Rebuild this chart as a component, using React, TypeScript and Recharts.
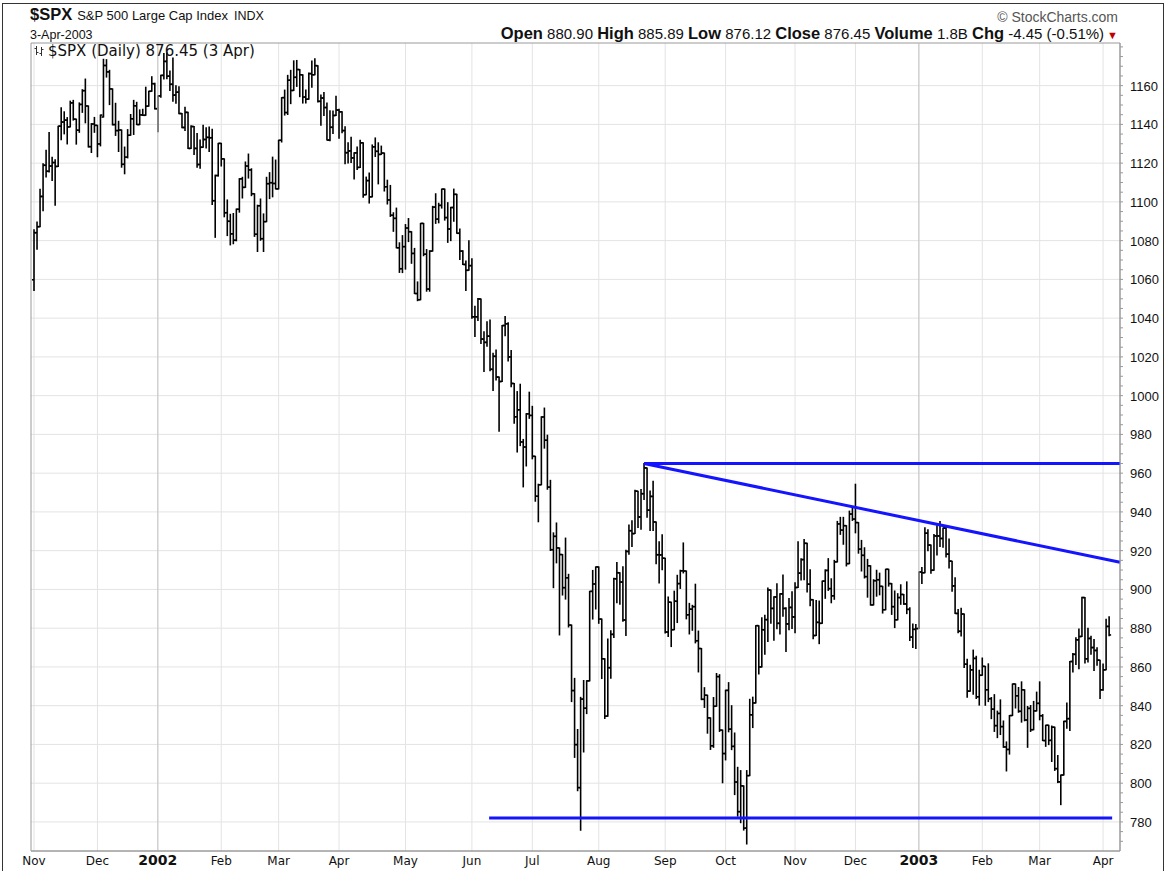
import React from "react";
import {
  ComposedChart,
  Bar,
  XAxis,
  YAxis,
  CartesianGrid,
  ReferenceLine,
  ReferenceArea,
} from "recharts";

// first trading day (bar index) of each month, and its axis label
const monthStarts = [0, 21, 41, 62, 81, 101, 123, 145, 165, 187, 209, 229, 252, 272, 293, 314, 333, 354];
const monthLabels = ["Nov", "Dec", "2002", "Feb", "Mar", "Apr", "May", "Jun", "Jul", "Aug", "Sep", "Oct", "Nov", "Dec", "2003", "Feb", "Mar", "Apr"];
const yearStarts = [41, 293];

const priceLabels = [780, 800, 820, 840, 860, 880, 900, 920, 940, 960, 980, 1000, 1020, 1040, 1060, 1080, 1100, 1120, 1140, 1160];

// daily bars, 1 Nov 2001 .. 3 Apr 2003 (one line per month)
const opens = [
  1059.8, 1084.1, 1087.2, 1102.8, 1118.9, 1115.8, 1118.5, 1120.3, 1118.3, 1139.1, 1141.2, 1142.2, 1138.7, 1151.1, 1142.7, 1137.0, 1150.3, 1157.4, 1149.5, 1128.5, 1140.2,
  1139.5, 1129.9, 1143.8, 1170.4, 1167.1, 1158.3, 1139.9, 1136.8, 1137.1, 1119.4, 1123.1, 1134.4, 1142.9, 1149.6, 1139.9, 1144.9, 1144.7, 1149.4, 1157.1, 1161.0,
  1148.1, 1154.7, 1165.3, 1172.5, 1164.9, 1160.7, 1155.1, 1156.6, 1145.6, 1138.4, 1146.2, 1127.6, 1138.9, 1127.6, 1119.3, 1128.2, 1132.2, 1133.3, 1133.1, 1100.6, 1113.6,
  1130.2, 1122.2, 1094.4, 1090.0, 1083.5, 1080.2, 1096.2, 1111.9, 1107.5, 1118.5, 1116.5, 1104.2, 1083.3, 1098.0, 1081.0, 1089.8, 1109.4, 1109.9, 1109.5,
  1106.7, 1131.8, 1153.8, 1146.1, 1162.8, 1157.5, 1164.3, 1168.3, 1165.6, 1154.1, 1153.0, 1166.2, 1165.6, 1170.3, 1151.9, 1153.6, 1148.7, 1131.9, 1138.5, 1144.6,
  1147.4, 1146.5, 1136.8, 1125.4, 1126.3, 1122.7, 1125.3, 1117.8, 1130.5, 1103.7, 1111.0, 1102.6, 1128.4, 1126.1, 1124.5, 1125.2, 1107.8, 1101.0, 1093.1, 1091.5, 1076.3, 1065.5,
  1076.9, 1086.5, 1084.6, 1073.4, 1052.7, 1049.5, 1088.9, 1073.0, 1055.0, 1074.6, 1097.3, 1091.1, 1098.2, 1106.6, 1091.9, 1086.0, 1097.1, 1103.9, 1083.8, 1074.6, 1067.7, 1064.7,
  1067.1, 1040.7, 1040.7, 1049.9, 1029.2, 1027.5, 1030.7, 1013.6, 1020.3, 1009.6, 1007.3, 1036.2, 1037.1, 1020.0, 1006.3, 989.1, 992.7, 976.1, 973.5, 990.6,
  989.8, 968.7, 948.1, 954.0, 989.0, 977.0, 952.8, 920.5, 927.4, 921.4, 918.0, 900.9, 906.0, 881.6, 847.8, 819.9, 797.7, 843.4, 838.7, 852.8, 899.0, 902.8,
  911.6, 884.7, 864.2, 834.6, 859.6, 876.8, 905.5, 908.6, 903.8, 884.2, 919.6, 930.3, 928.8, 950.7, 937.4, 949.4, 962.7, 940.9, 948.0, 934.8, 917.9, 917.8,
  916.1, 878.0, 893.4, 879.2, 893.9, 903.0, 909.6, 909.5, 886.9, 889.8, 891.1, 873.5, 869.5, 843.3, 845.4, 833.7, 819.3, 839.7, 855.0, 827.4,
  815.3, 847.9, 827.9, 819.0, 800.6, 785.3, 798.6, 776.8, 803.9, 835.3, 841.4, 881.3, 860.0, 879.2, 884.4, 899.7, 890.2, 896.1, 882.5, 897.7, 890.2, 882.2, 890.7,
  885.8, 901.0, 908.4, 915.4, 923.8, 902.7, 894.7, 876.2, 883.0, 882.5, 904.3, 909.8, 900.4, 896.7, 914.2, 933.8, 930.6, 932.9, 913.3, 938.9,
  936.3, 934.5, 920.8, 917.6, 906.6, 912.2, 892.0, 904.5, 905.0, 901.6, 889.5, 910.4, 903.0, 891.1, 884.3, 895.8, 897.4, 892.5, 889.7, 875.4, 879.4,
  879.8, 909.0, 908.6, 929.0, 922.9, 909.9, 927.6, 927.6, 926.3, 931.7, 918.2, 914.6, 901.8, 887.6, 878.4, 887.3, 861.4, 847.5, 858.5, 864.4, 844.6,
  855.7, 860.3, 848.2, 843.6, 838.2, 829.7, 836.0, 829.2, 818.7, 817.4, 834.9, 851.2, 845.1, 837.1, 848.2, 832.6, 838.6, 827.6, 837.3,
  841.2, 834.8, 822.0, 829.9, 822.1, 828.9, 807.5, 800.7, 804.2, 831.9, 833.3, 862.8, 866.5, 874.0, 875.7, 895.8, 864.2, 874.7, 870.0, 868.5, 863.5,
  848.2, 858.5, 880.9,
];

const highs = [
  1085.6, 1089.6, 1106.5, 1119.7, 1126.6, 1135.8, 1123.0, 1121.7, 1139.1, 1148.6, 1146.5, 1143.5, 1152.0, 1152.4, 1142.7, 1151.1, 1157.9, 1163.4, 1149.5, 1140.4, 1143.6,
  1139.5, 1144.8, 1173.6, 1173.4, 1167.9, 1158.3, 1150.9, 1141.6, 1137.1, 1128.3, 1137.3, 1145.1, 1152.4, 1151.4, 1147.5, 1147.8, 1159.2, 1157.1, 1164.6, 1161.2,
  1154.7, 1165.3, 1176.6, 1177.0, 1167.6, 1174.3, 1159.9, 1159.4, 1145.6, 1148.8, 1146.2, 1139.3, 1138.9, 1135.3, 1131.9, 1139.5, 1138.3, 1138.6, 1137.5, 1113.8, 1130.2,
  1130.2, 1122.2, 1101.0, 1093.6, 1094.0, 1096.3, 1112.0, 1112.7, 1120.6, 1124.7, 1117.1, 1104.2, 1098.3, 1101.5, 1093.8, 1112.7, 1115.1, 1123.1, 1121.6,
  1131.8, 1153.8, 1157.7, 1165.3, 1167.9, 1172.8, 1173.0, 1168.3, 1165.6, 1157.8, 1166.5, 1172.7, 1173.9, 1170.3, 1155.1, 1156.5, 1151.0, 1147.0, 1146.9, 1154.5,
  1147.8, 1146.5, 1138.8, 1130.5, 1133.3, 1125.4, 1128.3, 1131.8, 1130.5, 1112.8, 1114.9, 1129.4, 1133.0, 1130.5, 1128.8, 1125.2, 1111.2, 1108.5, 1094.4, 1096.8, 1078.9, 1082.6,
  1088.3, 1091.4, 1084.6, 1076.0, 1058.7, 1088.9, 1088.9, 1075.4, 1074.8, 1097.7, 1104.2, 1099.3, 1106.6, 1106.6, 1099.6, 1097.2, 1106.6, 1103.9, 1086.0, 1074.8, 1069.5, 1079.9,
  1070.7, 1046.1, 1050.1, 1049.9, 1033.0, 1038.2, 1039.0, 1021.9, 1023.5, 1009.6, 1036.2, 1040.8, 1037.6, 1023.3, 1006.3, 1002.1, 1005.9, 977.4, 990.7, 1001.8,
  994.5, 968.7, 954.3, 989.1, 993.6, 979.6, 956.3, 929.2, 934.3, 921.4, 918.0, 926.5, 907.8, 881.6, 854.1, 827.7, 844.3, 853.0, 852.9, 899.0, 909.8, 911.6,
  911.6, 884.7, 864.2, 874.4, 878.7, 905.8, 913.9, 908.6, 911.7, 920.2, 933.3, 935.4, 951.2, 950.7, 951.6, 965.0, 962.7, 950.8, 955.8, 934.8, 924.6, 928.2,
  916.1, 896.1, 893.4, 899.1, 907.3, 909.9, 924.0, 909.5, 892.8, 891.8, 902.7, 878.5, 869.5, 849.3, 845.4, 833.7, 844.2, 856.6, 856.0, 827.4,
  848.0, 851.9, 840.0, 825.9, 808.2, 806.5, 798.6, 806.5, 843.3, 844.4, 881.3, 881.3, 885.4, 886.7, 900.7, 899.7, 896.2, 902.9, 897.7, 907.4, 890.6, 895.3, 898.8,
  903.4, 924.6, 915.8, 925.7, 923.8, 910.1, 894.7, 894.3, 894.0, 904.3, 910.1, 915.9, 905.5, 915.0, 935.1, 937.2, 937.2, 932.9, 940.4, 941.8,
  954.3, 934.5, 925.3, 921.5, 915.5, 912.2, 905.0, 909.9, 908.4, 901.6, 910.4, 910.4, 903.0, 899.2, 897.8, 902.4, 897.4, 903.9, 890.5, 882.1, 881.9,
  909.0, 911.3, 931.8, 930.8, 922.9, 928.3, 932.9, 935.0, 931.7, 932.6, 926.0, 914.6, 906.0, 889.7, 890.3, 887.3, 864.0, 860.8, 868.7, 865.5, 858.3,
  864.6, 860.3, 861.6, 844.2, 845.7, 837.2, 843.0, 832.1, 821.3, 834.9, 851.2, 851.2, 849.4, 852.3, 848.2, 839.6, 840.1, 842.2, 847.0,
  852.3, 835.4, 829.9, 829.9, 829.5, 828.9, 814.3, 804.2, 832.0, 841.4, 862.8, 866.9, 875.0, 879.6, 895.9, 895.8, 879.9, 875.8, 874.1, 869.9, 863.5,
  861.5, 884.6, 885.9,
];

const lows = [
  1054.3, 1075.6, 1087.2, 1095.4, 1112.9, 1115.4, 1111.1, 1098.3, 1118.3, 1132.1, 1135.1, 1129.9, 1138.7, 1142.2, 1129.8, 1135.9, 1146.2, 1140.8, 1128.3, 1125.5, 1135.9,
  1123.3, 1128.9, 1143.8, 1164.4, 1150.2, 1139.7, 1134.3, 1126.0, 1117.9, 1114.5, 1122.7, 1134.4, 1134.8, 1139.9, 1139.9, 1144.6, 1144.7, 1149.4, 1157.1, 1148.0,
  1136.2, 1154.0, 1163.4, 1163.6, 1157.5, 1151.9, 1150.9, 1145.5, 1138.2, 1136.9, 1127.5, 1127.6, 1124.5, 1117.9, 1117.4, 1128.2, 1127.8, 1126.0, 1098.7, 1081.7, 1113.3,
  1118.5, 1092.3, 1082.6, 1077.8, 1078.4, 1079.9, 1094.7, 1102.0, 1107.5, 1112.3, 1103.2, 1082.2, 1074.4, 1080.2, 1074.4, 1089.8, 1101.7, 1102.6, 1106.7,
  1106.7, 1130.9, 1144.8, 1145.1, 1150.7, 1157.5, 1159.6, 1154.3, 1151.0, 1151.0, 1153.0, 1159.1, 1165.6, 1151.6, 1139.5, 1144.6, 1131.9, 1131.6, 1135.3, 1144.6,
  1132.9, 1135.7, 1119.7, 1120.1, 1120.3, 1111.8, 1116.7, 1117.8, 1102.4, 1103.7, 1099.4, 1102.6, 1123.4, 1109.3, 1124.5, 1105.6, 1098.9, 1092.5, 1084.8, 1076.3, 1063.6, 1063.5,
  1065.3, 1079.5, 1068.3, 1052.7, 1049.0, 1049.5, 1072.2, 1053.9, 1053.9, 1074.6, 1088.9, 1089.2, 1096.8, 1090.6, 1079.1, 1080.0, 1090.0, 1083.8, 1070.3, 1067.7, 1054.3, 1064.7,
  1039.9, 1030.5, 1038.8, 1026.9, 1012.5, 1025.5, 1012.9, 1002.6, 1008.1, 981.6, 1007.3, 1030.9, 1017.9, 1004.6, 985.7, 970.9, 974.2, 952.9, 963.7, 988.3,
  967.4, 945.5, 934.9, 954.0, 972.9, 951.7, 920.1, 900.9, 913.7, 876.5, 897.1, 895.0, 880.6, 842.1, 813.3, 796.1, 775.7, 816.1, 835.9, 852.8, 884.7, 889.9,
  882.5, 854.0, 833.4, 834.6, 854.1, 875.2, 893.1, 892.4, 883.6, 876.2, 918.2, 922.1, 928.8, 931.9, 931.1, 946.4, 937.2, 930.4, 930.4, 913.2, 903.3, 910.2,
  877.5, 875.7, 870.5, 879.2, 882.9, 900.5, 908.5, 884.8, 877.0, 878.9, 872.4, 857.4, 843.1, 839.1, 825.8, 817.4, 818.5, 839.7, 826.7, 800.2,
  812.0, 826.5, 817.3, 794.1, 783.0, 779.6, 775.8, 768.6, 803.9, 828.7, 841.4, 856.3, 860.0, 866.6, 873.1, 882.6, 873.8, 879.7, 877.0, 886.2, 867.9, 879.2, 879.8,
  877.7, 901.0, 904.9, 905.0, 898.7, 891.6, 874.6, 876.2, 872.0, 882.5, 895.4, 899.5, 893.1, 894.9, 914.2, 928.4, 923.3, 912.1, 913.3, 935.6,
  929.2, 918.7, 909.5, 905.9, 896.0, 891.9, 892.0, 896.5, 897.2, 887.8, 889.5, 901.7, 887.1, 880.3, 884.3, 892.3, 892.3, 887.5, 873.6, 870.0, 869.5,
  879.8, 903.1, 908.6, 919.9, 908.3, 909.9, 917.7, 922.1, 921.7, 916.7, 911.1, 899.0, 887.6, 877.6, 876.0, 859.7, 844.3, 847.5, 845.9, 843.7, 840.3,
  855.7, 840.2, 842.1, 833.3, 826.7, 823.5, 825.1, 818.5, 806.3, 815.0, 834.9, 838.8, 836.6, 831.5, 832.2, 818.5, 826.7, 827.6, 837.3,
  832.7, 822.0, 819.0, 819.9, 811.2, 806.6, 800.3, 788.9, 804.2, 828.3, 827.2, 857.4, 861.2, 859.0, 875.7, 862.0, 862.6, 866.5, 858.1, 860.8, 843.7,
  847.9, 858.5, 876.1,
];

const closes = [
  1084.1, 1087.2, 1102.8, 1118.9, 1115.8, 1118.5, 1120.3, 1118.3, 1139.1, 1141.2, 1142.2, 1138.7, 1151.1, 1142.7, 1137.0, 1150.3, 1157.4, 1149.5, 1128.5, 1140.2, 1139.5,
  1129.9, 1144.8, 1170.4, 1167.1, 1158.3, 1139.9, 1136.8, 1137.1, 1119.4, 1123.1, 1134.4, 1142.9, 1149.6, 1139.9, 1144.9, 1144.7, 1149.4, 1157.1, 1161.0, 1148.1,
  1154.7, 1165.3, 1172.5, 1164.9, 1160.7, 1155.1, 1156.6, 1145.6, 1138.4, 1146.2, 1127.6, 1138.9, 1127.6, 1119.3, 1128.2, 1132.2, 1133.3, 1133.1, 1100.6, 1113.6, 1130.2,
  1122.2, 1094.4, 1090.0, 1083.5, 1080.2, 1096.2, 1111.9, 1107.5, 1118.5, 1116.5, 1104.2, 1083.3, 1098.0, 1081.0, 1089.8, 1109.4, 1109.9, 1109.5, 1106.7,
  1131.8, 1153.8, 1146.1, 1162.8, 1157.5, 1164.3, 1168.3, 1165.6, 1154.1, 1153.0, 1166.2, 1165.6, 1170.3, 1151.9, 1153.6, 1148.7, 1131.9, 1138.5, 1144.6, 1147.4,
  1146.5, 1136.8, 1125.4, 1126.3, 1122.7, 1125.3, 1117.8, 1130.5, 1103.7, 1111.0, 1102.6, 1128.4, 1126.1, 1124.5, 1125.2, 1107.8, 1101.0, 1093.1, 1091.5, 1076.3, 1065.5, 1076.9,
  1086.5, 1084.6, 1073.4, 1052.7, 1049.5, 1088.9, 1073.0, 1055.0, 1074.6, 1097.3, 1091.1, 1098.2, 1106.6, 1091.9, 1086.0, 1097.1, 1103.9, 1083.8, 1074.6, 1067.7, 1064.7, 1067.1,
  1040.7, 1040.7, 1049.9, 1029.2, 1027.5, 1030.7, 1013.6, 1020.3, 1009.6, 1007.3, 1036.2, 1037.1, 1020.0, 1006.3, 989.1, 992.7, 976.1, 973.5, 990.6, 989.8,
  968.7, 948.1, 954.0, 989.0, 977.0, 952.8, 920.5, 927.4, 921.4, 918.0, 900.9, 906.0, 881.6, 847.8, 819.9, 797.7, 843.4, 838.7, 852.8, 899.0, 902.8, 911.6,
  884.7, 864.2, 834.6, 859.6, 876.8, 905.5, 908.6, 903.8, 884.2, 919.6, 930.3, 928.8, 950.7, 937.4, 949.4, 962.7, 940.9, 948.0, 934.8, 917.9, 917.8, 916.1,
  878.0, 893.4, 879.2, 893.9, 903.0, 909.6, 909.5, 886.9, 889.8, 891.1, 873.5, 869.5, 843.3, 845.4, 833.7, 819.3, 839.7, 855.0, 827.4, 815.3,
  847.9, 827.9, 819.0, 800.6, 785.3, 798.6, 776.8, 803.9, 835.3, 841.4, 881.3, 860.0, 879.2, 884.4, 899.7, 890.2, 896.1, 882.5, 897.7, 890.2, 882.2, 890.7, 885.8,
  901.0, 908.4, 915.4, 923.8, 902.7, 894.7, 876.2, 883.0, 882.5, 904.3, 909.8, 900.4, 896.7, 914.2, 933.8, 930.6, 932.9, 913.3, 938.9, 936.3,
  934.5, 920.8, 917.6, 906.6, 912.2, 892.0, 904.5, 905.0, 901.6, 889.5, 910.4, 903.0, 891.1, 884.3, 895.8, 897.4, 892.5, 889.7, 875.4, 879.4, 879.8,
  909.0, 908.6, 929.0, 922.9, 909.9, 927.6, 927.6, 926.3, 931.7, 918.2, 914.6, 901.8, 887.6, 878.4, 887.3, 861.4, 847.5, 858.5, 864.4, 844.6, 855.7,
  860.3, 848.2, 843.6, 838.2, 829.7, 836.0, 829.2, 818.7, 817.4, 834.9, 851.2, 845.1, 837.1, 848.2, 832.6, 838.6, 827.6, 837.3, 841.2,
  834.8, 822.0, 829.9, 822.1, 828.9, 807.5, 800.7, 804.2, 831.9, 833.3, 862.8, 866.5, 874.0, 875.7, 895.8, 864.2, 874.7, 870.0, 868.5, 863.5, 848.2,
  858.5, 880.9, 876.5,
];

// hand-drawn trend lines (bar index, price)
const trendLines = [
  { x1: 202, y1: 965, x2: 359.6, y2: 965 },
  { x1: 202, y1: 965, x2: 359.6, y2: 914 },
  { x1: 150.7, y1: 782, x2: 357, y2: 782 },
];

const X_DOMAIN: [number, number] = [-1, 359.6];
const Y_DOMAIN: [number, number] = [765, 1182];

const minorTicks: number[] = [];
for (let v = 770; v <= 1180; v += 5) minorTicks.push(v);

const bars = closes.map((c, i) => ({
  i,
  range: [lows[i], highs[i]],
  open: opens[i],
  high: highs[i],
  low: lows[i],
  close: c,
}));

const OhlcBar = (props: any) => {
  const { x, y, width, height } = props;
  const d = props.payload || props;
  if (x == null || y == null) return null;
  const cx = x + width / 2;
  const span = d.high - d.low;
  const toY = (v: number) => (span > 0 ? y + ((d.high - v) / span) * height : y);
  const oy = toY(d.open);
  const cy = toY(d.close);
  return (
    <g stroke="#000" strokeWidth={1.6}>
      <line x1={cx} x2={cx} y1={y - 0.5} y2={y + height + 0.5} />
      <line x1={cx - 2} x2={cx} y1={oy} y2={oy} />
      <line x1={cx} x2={cx + 2} y1={cy} y2={cy} />
    </g>
  );
};

const MonthTick = (props: any) => {
  const { x, y, payload } = props;
  const idx = monthStarts.indexOf(payload.value);
  const label = idx >= 0 ? monthLabels[idx] : "";
  const isYear = /^\d{4}$/.test(label);
  return (
    <text
      x={x}
      y={y + 6}
      textAnchor="middle"
      fontFamily="DejaVu Sans, Verdana, sans-serif"
      fontSize={isYear ? 14 : 12}
      fontWeight={isYear ? 700 : 400}
      fill="#111"
    >
      {label}
    </text>
  );
};

const PriceTick = (props: any) => {
  const { x, y, payload } = props;
  if (!priceLabels.includes(payload.value)) return <g />;
  return (
    <text x={x} y={y + 5} textAnchor="start" fontFamily="Liberation Sans, Arial, sans-serif" fontSize={13} fill="#111">
      {payload.value}
    </text>
  );
};

const headerFont = "Liberation Sans, Arial, sans-serif";

const App = () => {
  return (
    <div style={{ position: "absolute", left: 0, top: 0, width: 1166, height: 871, background: "#fff", overflow: "hidden" }}>
      <ComposedChart
        width={1166}
        height={871}
        data={bars}
        margin={{ top: 43, right: 0, bottom: 0, left: 31 }}
        style={{ position: "absolute", left: 0, top: 0 }}
      >
        <CartesianGrid stroke="#e3e3e3" horizontalValues={priceLabels} verticalValues={monthStarts} />
        {yearStarts.map((v) => (
          <ReferenceLine key={v} x={v} stroke="#c4c4c4" />
        ))}
        <XAxis
          type="number"
          dataKey="i"
          domain={X_DOMAIN}
          allowDataOverflow
          ticks={monthStarts}
          interval={0}
          tick={<MonthTick />}
          tickLine={false}
          axisLine={{ stroke: "#9a9a9a" }}
          height={20}
        />
        <YAxis
          orientation="right"
          domain={Y_DOMAIN}
          allowDataOverflow
          ticks={minorTicks}
          interval={0}
          tick={<PriceTick />}
          tickSize={3}
          tickMargin={7}
          tickLine={{ stroke: "#9a9a9a" }}
          axisLine={{ stroke: "#9a9a9a" }}
          width={46}
        />
        <ReferenceArea x1={X_DOMAIN[0]} x2={X_DOMAIN[1]} y1={Y_DOMAIN[0]} y2={Y_DOMAIN[1]} fill="none" stroke="#9a9a9a" />
        <Bar dataKey="range" shape={<OhlcBar />} barSize={3} isAnimationActive={false} />
        {trendLines.map((t, k) => (
          <ReferenceLine
            key={k}
            segment={[
              { x: t.x1, y: t.y1 },
              { x: t.x2, y: t.y2 },
            ]}
            stroke="#1414ff"
            strokeWidth={3}
            ifOverflow="visible"
          />
        ))}
      </ComposedChart>

      <svg width={1166} height={871} style={{ position: "absolute", left: 0, top: 0, pointerEvents: "none" }}>
        <rect x={2.5} y={3.5} width={1161} height={880} fill="none" stroke="#333" />
        <text x={30} y={20} fontFamily={headerFont} fill="#111">
          <tspan fontSize={16.5} fontWeight={700}>$SPX</tspan>
          <tspan fontSize={13} dx={5}>S&amp;P 500 Large Cap Index</tspan>
          <tspan fontSize={12.5} dx={6}>INDX</tspan>
        </text>
        <text x={30} y={39} fontFamily={headerFont} fontSize={12.5} fill="#111">3-Apr-2003</text>
        <text x={1118} y={22} textAnchor="end" fontFamily={headerFont} fontSize={14} fill="#555">© StockCharts.com</text>
        <text x={1118} y={39} textAnchor="end" fontFamily={headerFont} fill="#111">
          <tspan fontSize={16.5} fontWeight={700}>Open</tspan>
          <tspan fontSize={15}> 880.90 </tspan>
          <tspan fontSize={16.5} fontWeight={700}> High</tspan>
          <tspan fontSize={15}> 885.89 </tspan>
          <tspan fontSize={16.5} fontWeight={700}> Low</tspan>
          <tspan fontSize={15}> 876.12 </tspan>
          <tspan fontSize={16.5} fontWeight={700}> Close</tspan>
          <tspan fontSize={15}> 876.45 </tspan>
          <tspan fontSize={16.5} fontWeight={700}> Volume</tspan>
          <tspan fontSize={15}> 1.8B </tspan>
          <tspan fontSize={16.5} fontWeight={700}> Chg</tspan>
          <tspan fontSize={15}> -4.45 (-0.51%)</tspan>
          <tspan fontSize={11} fill="#c00000" dx={3}>▼</tspan>
        </text>
        <g stroke="#333" strokeWidth={1}>
          <line x1={36.5} x2={36.5} y1={46} y2={55} />
          <line x1={34.5} x2={36.5} y1={48.5} y2={48.5} />
          <line x1={36.5} x2={38.5} y1={52.5} y2={52.5} />
          <line x1={41.5} x2={41.5} y1={47} y2={56} />
          <line x1={39.5} x2={41.5} y1={53.5} y2={53.5} />
          <line x1={41.5} x2={43.5} y1={49.5} y2={49.5} />
        </g>
        <text x={48} y={56} fontFamily="DejaVu Sans, Verdana, sans-serif" fontSize={15} fill="#111">
          $SPX (Daily) 876.45 (3 Apr)
        </text>
      </svg>
    </div>
  );
};

export default App;
